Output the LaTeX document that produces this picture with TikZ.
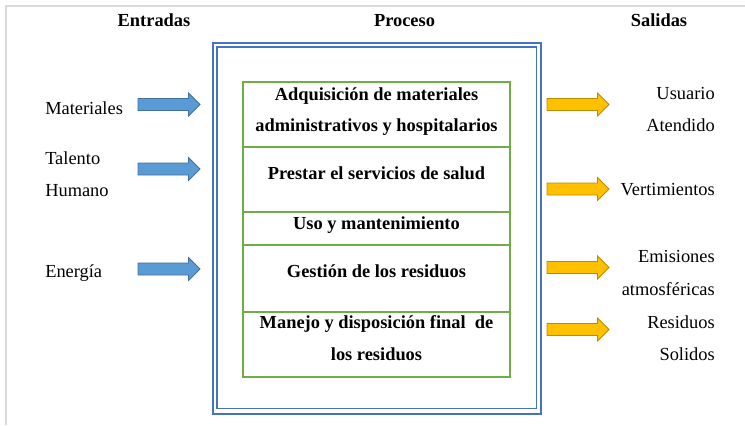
\documentclass[tikz,border=0pt]{standalone}
\usepackage{fontspec}
\setmainfont{Liberation Serif}
\definecolor{frameblue}{HTML}{4472C4}
\definecolor{boxgreen}{HTML}{70AD47}
\definecolor{inblue}{HTML}{5B9BD5}
\definecolor{inblueline}{HTML}{41719C}
\definecolor{outorange}{HTML}{FFC000}
\definecolor{outorangeline}{HTML}{BC8C00}
\definecolor{edgegray}{HTML}{DADADA}
\tikzset{
  title/.style={font=\fontsize{13.8}{16}\selectfont\bfseries, anchor=base, inner sep=0pt},
  boxtext/.style={font=\fontsize{13.8}{16}\selectfont\bfseries, anchor=base, inner sep=0pt},
  lefttext/.style={font=\fontsize{13.8}{16}\selectfont, anchor=base west, inner sep=0pt},
  righttext/.style={font=\fontsize{13.8}{16}\selectfont, anchor=base east, inner sep=0pt},
  greenbox/.style={draw=boxgreen, line width=1.4pt},
  bluefr/.style={draw=frameblue, line width=1.3pt},
  pics/bigarrow/.style args={#1/#2}{code={
    \filldraw[fill=#1, draw=#2, line width=0.6pt]
      (0,-6) -- (50.5,-6) -- (50.5,-11.5) -- (62,0) -- (50.5,11.5) -- (50.5,6) -- (0,6) -- cycle;
  }}
}
\begin{document}
\begin{tikzpicture}[x=0.75pt,y=-0.75pt]
\useasboundingbox (0,0) rectangle (745,425);
\fill[white] (0,0) rectangle (745,425);
% light frame edges
\draw[edgegray, line width=1.5pt] (5.5,425) -- (5.5,5.5) -- (745,5.5);

% titles
\node[title] (tin)  at (154,26) {Entradas};
\node[title] (tpro) at (404.5,26) {Proceso};
\node[title] (tout) at (659,26) {Salidas};

% blue double frame
\draw[bluefr] (212.7,42.7) rectangle (541,414);
\draw[bluefr] (217.3,47.3) rectangle (536.5,408.5);

% green stack
\draw[greenbox] (243.3,81.7) rectangle (510,376.7);
\draw[greenbox] (243.3,146.7) -- (510,146.7);
\draw[greenbox] (243.3,211.7) -- (510,211.7);
\draw[greenbox] (243.3,245) -- (510,245);
\draw[greenbox] (243.3,311.7) -- (510,311.7);

% process texts
\node[boxtext] (p1a) at (376.5,100) {Adquisición de materiales};
\node[boxtext] (p1b) at (376.5,131.7) {administrativos y hospitalarios};
\node[boxtext] (p2)  at (376.5,179) {Prestar el servicios de salud};
\node[boxtext] (p3)  at (376.5,229) {Uso y mantenimiento};
\node[boxtext] (p4)  at (376.5,277) {Gestión de los residuos};
\node[boxtext] (p5a) at (376.5,328.3) {Manejo y disposición final\ \ de};
\node[boxtext] (p5b) at (376.5,360) {los residuos};

% inputs
\node[lefttext] (i1)  at (45,114) {Materiales};
\node[lefttext] (i2a) at (45,164.5) {Talento};
\node[lefttext] (i2b) at (45,196) {Humano};
\node[lefttext] (i3)  at (45,277) {Energía};
\pic at (138,104.5) {bigarrow={inblue/inblueline}};
\pic at (138,169) {bigarrow={inblue/inblueline}};
\pic at (138,269) {bigarrow={inblue/inblueline}};

% outputs
\pic at (547,104.5) {bigarrow={outorange/outorangeline}};
\pic at (547,189) {bigarrow={outorange/outorangeline}};
\pic at (547,267.5) {bigarrow={outorange/outorangeline}};
\pic at (547,329.5) {bigarrow={outorange/outorangeline}};
\node[righttext] (o1a) at (715,99.5) {Usuario};
\node[righttext] (o1b) at (715,131) {Atendido};
\node[righttext] (o2)  at (715,195.5) {Vertimientos};
\node[righttext] (o3a) at (715,262.5) {Emisiones};
\node[righttext] (o3b) at (715,295) {atmosféricas};
\node[righttext] (o4a) at (715,328) {Residuos};
\node[righttext] (o4b) at (715,360) {Solidos};
\end{tikzpicture}
\end{document}
